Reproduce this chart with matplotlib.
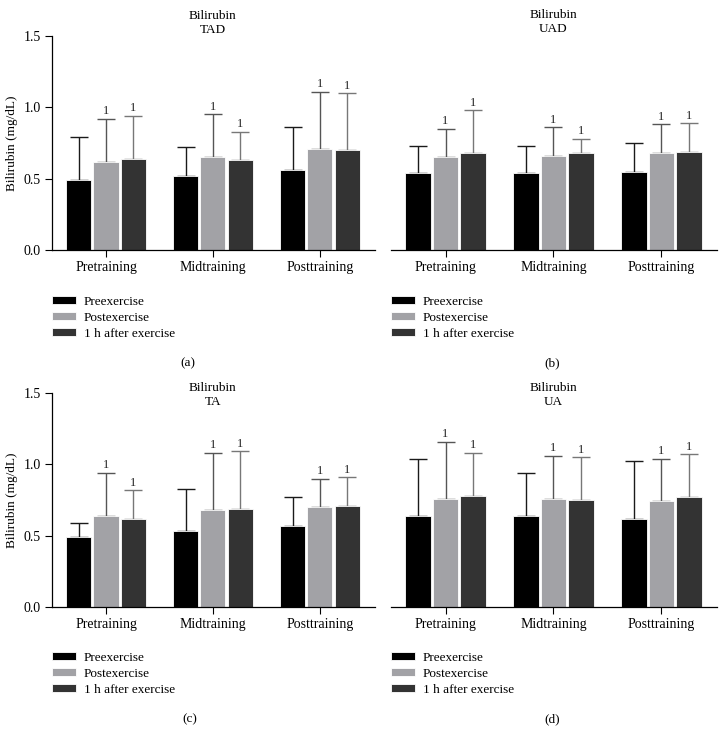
import matplotlib
matplotlib.use("Agg")
import matplotlib.pyplot as plt
import numpy as np

plt.rcParams["font.family"] = ["Liberation Serif", "DejaVu Serif"]
plt.rcParams["font.size"] = 9

# --- Data ---
phases = ["Pretraining", "Midtraining", "Posttraining"]
series = ["Preexercise", "Postexercise", "1 h after exercise"]
colors = ["#000000", "#a2a2a6", "#333333"]
err_colors = ["#1a1a1a", "#555555", "#777777"]

panel_names = ["TAD", "UAD", "TA", "UA"]
panel_tags = ["(a)", "(b)", "(c)", "(d)"]

# means: rows = series (pre, post, 1h), cols = phases
tad_mean = [[0.49, 0.52, 0.56], [0.62, 0.65, 0.71], [0.64, 0.63, 0.70]]
tad_top = [[0.79, 0.72, 0.86], [0.92, 0.95, 1.11], [0.94, 0.83, 1.10]]
uad_mean = [[0.54, 0.54, 0.55], [0.65, 0.66, 0.68], [0.68, 0.68, 0.69]]
uad_top = [[0.73, 0.73, 0.75], [0.85, 0.86, 0.88], [0.98, 0.78, 0.89]]
ta_mean = [[0.49, 0.53, 0.57], [0.64, 0.68, 0.70], [0.62, 0.69, 0.71]]
ta_top = [[0.59, 0.83, 0.77], [0.94, 1.08, 0.90], [0.82, 1.09, 0.91]]
ua_mean = [[0.64, 0.64, 0.62], [0.76, 0.76, 0.74], [0.78, 0.75, 0.77]]
ua_top = [[1.04, 0.94, 1.02], [1.16, 1.06, 1.04], [1.08, 1.05, 1.07]]

# significance marks "1" (True where drawn)
sig = [[False, False, False], [True, True, True], [True, True, True]]

means = [tad_mean, uad_mean, ta_mean, ua_mean]
tops = [tad_top, uad_top, ta_top, ua_top]

W, H = 725, 733
fig = plt.figure(figsize=(W / 100, H / 100), dpi=100)

# axes boxes in pixels: left, right, top(1.5), bottom(0)
boxes = [(52, 375, 36, 250), (391, 717, 36, 250),
         (52, 375, 393, 607), (391, 717, 393, 607)]
title_y = [23, 22, 395, 395]
legend_xy = [(52, 296), (391, 296), (52, 652), (391, 652)]
tag_xy = [(188, 363), (552, 363), (190, 719), (552, 719)]

x = np.arange(len(phases))
bw = 0.234
off = 0.255

for i in range(4):
    l, r, t, b = boxes[i]
    ax = fig.add_axes([l / W, 1 - b / H, (r - l) / W, (b - t) / H])
    bars = []
    for s in range(3):
        m = np.array(means[i][s])
        tp = np.array(tops[i][s])
        xs = x + (s - 1) * off
        bb = ax.bar(xs, m, bw, color=colors[s], edgecolor="white", linewidth=0.6,
                    label=series[s], zorder=2)
        bars.append(bb)
        ax.errorbar(xs, m, yerr=[np.zeros(3), tp - m], fmt="none",
                    ecolor=err_colors[s], elinewidth=1.0, capsize=6.5,
                    capthick=1.0, zorder=1)
        for j in range(3):
            if sig[s][j]:
                ax.text(xs[j], tp[j] + 0.01, "1", ha="center", va="bottom",
                        fontsize=9, color="#222222")
    ax.set_xlim(-0.505, 2.515)
    ax.set_ylim(0, 1.5)
    ax.set_xticks(x)
    ax.set_xticklabels(phases, fontsize=10)
    ax.spines["top"].set_visible(False)
    ax.spines["right"].set_visible(False)
    ax.tick_params(axis="x", length=5, width=0.8, pad=3)
    if i % 2 == 0:
        ax.set_yticks([0, 0.5, 1.0, 1.5])
        ax.set_yticklabels(["0.0", "0.5", "1.0", "1.5"], fontsize=10)
        ax.tick_params(axis="y", length=5, width=0.8, pad=3)
        ax.set_ylabel("Bilirubin (mg/dL)", fontsize=9.5, labelpad=4)
    else:
        ax.spines["left"].set_visible(False)
        ax.set_yticks([])
    ax.spines["bottom"].set_linewidth(0.9)
    ax.spines["left"].set_linewidth(0.9)

    cx = (x[1] - ax.get_xlim()[0]) / (ax.get_xlim()[1] - ax.get_xlim()[0])
    fig.text((l + cx * (r - l)) / W, 1 - title_y[i] / H,
             "Bilirubin\n" + panel_names[i], ha="center", va="center",
             fontsize=9.5, linespacing=1.2)

    lx, ly = legend_xy[i]
    ax.legend(handles=bars, loc="upper left",
              bbox_to_anchor=(lx / W, 1 - ly / H), bbox_transform=fig.transFigure,
              frameon=False, fontsize=9.5, handlelength=1.8, handleheight=0.55,
              handletextpad=0.6, labelspacing=0.3, borderpad=0, borderaxespad=0)

    tx, ty = tag_xy[i]
    fig.text(tx / W, 1 - ty / H, panel_tags[i], ha="center", va="center", fontsize=9.5)

fig.savefig("out.png", dpi=100)
